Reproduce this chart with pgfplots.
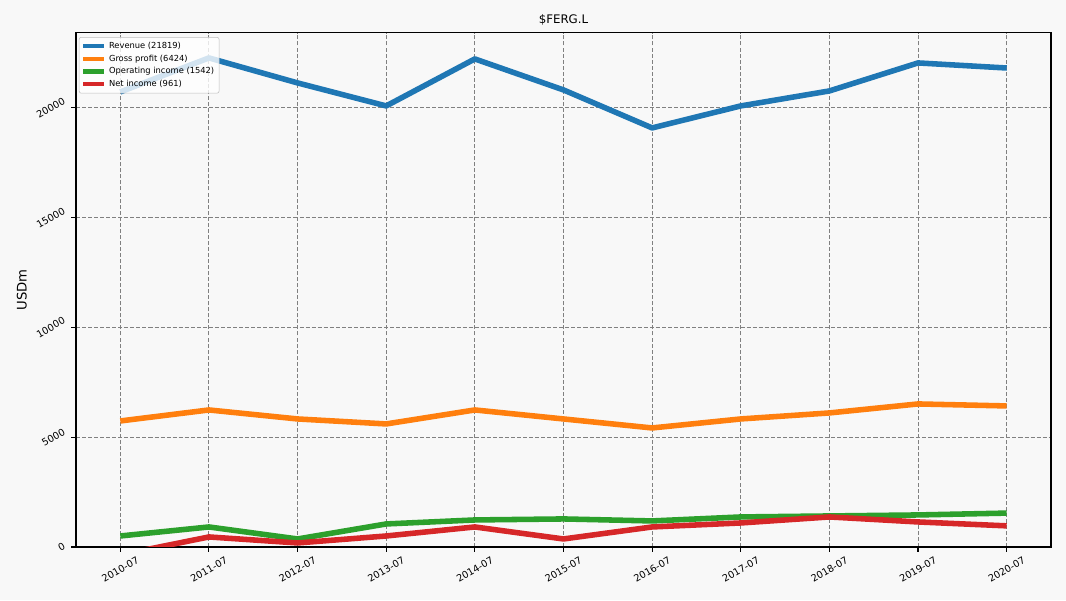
\documentclass[border=0pt]{standalone}
\usepackage{fontspec}
\setmainfont{DejaVu Sans}
\usepackage{graphicx}
\usepackage{pgfplots}
\pgfplotsset{compat=1.18}
\definecolor{bgc}{HTML}{F8F8F8}
\definecolor{c1}{HTML}{1F77B4}
\definecolor{c2}{HTML}{FF7F0E}
\definecolor{c3}{HTML}{2CA02C}
\definecolor{c4}{HTML}{D62728}
\newcommand{\rl}[1]{\rotatebox{30}{#1}}
\begin{document}
\begin{tikzpicture}
\fill[bgc] (0,0) rectangle (767.52pt,432pt);
\useasboundingbox (0,0) rectangle (767.52pt,432pt);
\begin{axis}[
  at={(54.7pt,38.2pt)}, anchor=south west,
  scale only axis, width=702pt, height=370.1pt,
  xmin=-0.5, xmax=10.5, ymin=0, ymax=23417,
  xtick={0,...,10},
  xticklabels={\rl{2010-07},\rl{2011-07},\rl{2012-07},\rl{2013-07},\rl{2014-07},\rl{2015-07},\rl{2016-07},\rl{2017-07},\rl{2018-07},\rl{2019-07},\rl{2020-07}},
  ytick={0,5000,10000,15000,20000},
  yticklabels={\rl{0},\rl{5000},\rl{10000},\rl{15000},\rl{20000}},
  scaled y ticks=false, scaled x ticks=false,
  tick align=outside, major tick length=3.5pt,
  tick style={black, line width=0.8pt},
  xtick pos=bottom, ytick pos=left,
  axis line style={black, line width=0.8pt},
  tick label style={font=\fontsize{7}{8}\selectfont, inner sep=0pt},
  xticklabel style={anchor=north, yshift=-3pt},
  yticklabel style={anchor=east, xshift=-3.5pt},
  grid=major,
  major grid style={gray, line width=0.75pt, dash pattern=on 2.9pt off 1.45pt},
  title={\$FERG.L},
  every axis title/.style={at={(axis description cs:0.5,1)}, anchor=center, yshift=9.4pt, font=\fontsize{8.5}{10}\selectfont},
  ylabel={USDm},
  every axis y label/.style={at={(axis description cs:-0.0556,0.5)}, rotate=90, anchor=center, font=\fontsize{9.5}{11}\selectfont},
  clip=true,
  legend cell align=left,
  legend style={at={(0.003,0.992)}, anchor=north west, font=\fontsize{6}{7}\selectfont,
    draw=lightgray, rounded corners=1.5pt, fill=white, fill opacity=0.8, text opacity=1,
    inner sep=1.5pt, row sep=-1pt},
  legend image code/.code={\draw[#1, line width=3pt] (0pt,0pt) -- (15pt,0pt);},
  every axis plot/.append style={line width=4pt, line join=round},
]
\addplot[c1] coordinates {(0,20729) (1,22278) (2,21139) (3,20091) (4,22232) (5,20820) (6,19089) (7,20091) (8,20774) (9,22050) (10,21819)};
\addlegendentry{Revenue (21819)}
\addplot[c2] coordinates {(0,5740) (1,6241) (2,5831) (3,5604) (4,6241) (5,5831) (6,5421) (7,5831) (8,6105) (9,6515) (10,6424)};
\addlegendentry{Gross profit (6424)}
\addplot[c3] coordinates {(0,500) (1,911) (2,364) (3,1048) (4,1230) (5,1276) (6,1185) (7,1367) (8,1412) (9,1458) (10,1542)};
\addlegendentry{Operating income (1542)}
\addplot[c4] coordinates {(0,-360) (1,456) (2,182) (3,500) (4,911) (5,364) (6,911) (7,1093) (8,1367) (9,1139) (10,961)};
\addlegendentry{Net income (961)}
\end{axis}
\end{tikzpicture}
\end{document}
